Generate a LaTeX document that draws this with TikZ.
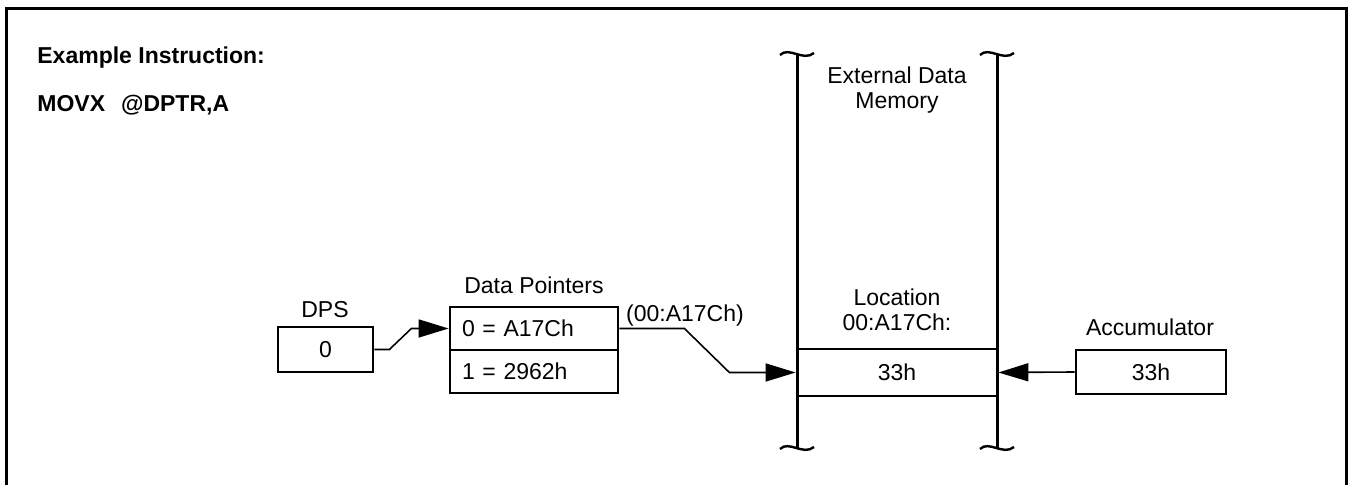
\documentclass[tikz,border=0pt]{standalone}
\usepackage{fontspec}
\setmainfont{Liberation Sans}
\usetikzlibrary{arrows.meta}

\begin{document}
\begin{tikzpicture}[x=0.5pt,y=-0.5pt,
  box node/.style={draw,line width=1.4pt,inner sep=0pt,font=\fontsize{11.5}{12.5}\selectfont},
  text node/.style={inner sep=0pt,align=center,font=\fontsize{11.5}{12.5}\selectfont},
  title node/.style={inner sep=0pt,anchor=base west,font=\fontsize{11.5}{12.5}\selectfont\bfseries},
  link/.style={line width=0.8pt},
  tip/.style={-{Triangle[length=15pt,width=9pt]}}]

\useasboundingbox (0,0) rectangle (1350,485);
\coordinate (f0) at (6.5,485);
\coordinate (f1) at (6.5,8.5);
\coordinate (f2) at (1346.5,8.5);
\coordinate (f3) at (1346.5,485);
\draw[line width=1.7pt] (f0) -- (f1) -- (f2) -- (f3);

\node[title node] (t0) at (37,64) {Example Instruction:};
\node[title node] (t1) at (37,112) {MOVX\hspace{8pt}@DPTR,A};

% memory column
\coordinate (m0) at (797,54);
\coordinate (m1) at (797,448);
\coordinate (m2) at (997,54);
\coordinate (m3) at (997,448);
\draw[line width=1.5pt] (m0) -- (m1);
\draw[line width=1.5pt] (m2) -- (m3);
\foreach \x/\y in {797/54,997/54,797/448,997/448}
  \draw[line width=1.2pt] (\x-17,\y+1) .. controls (\x-8,\y-8) and (\x+6,\y+8) .. (\x+17,\y-1);

\node[text node] (memlabel) at (897,90) {External Data\\Memory};
\node[text node] (loclabel) at (897,310) {Location\\00:A17Ch:};
\node[box node,minimum width=100pt,minimum height=23.5pt] (cell) at (897,372.5) {33h};

% registers
\node[text node] (dpslabel) at (325,310) {DPS};
\node[box node,minimum width=47.5pt,minimum height=22.5pt] (dps) at (325.5,349.5) {0};

\node[text node] (dplabel) at (534,285) {Data Pointers};
\node[box node,minimum width=84pt,minimum height=21.5pt,text width=72pt,inner xsep=6pt,align=left] (dp0) at (534,328.5) {0 = A17Ch};
\node[box node,minimum width=84pt,minimum height=21.5pt,text width=72pt,inner xsep=6pt,align=left] (dp1) at (534,371.5) {1 = 2962h};

\node[text node] (acclabel) at (1150,327) {Accumulator};
\node[box node,minimum width=75pt,minimum height=22pt] (acc) at (1151,372) {33h};

\node[text node,anchor=base] (addr) at (685,322) {(00:A17Ch)};

\draw[link,tip] (dps.east) -- ++(15,0) -- ++(22,-21) -- (dp0.west);
\draw[link,tip] (dp0.east) -- ++(65,0) -- ++(45,44) -- (cell.west);
\draw[link,tip] (acc.west) -- (cell.east);

\end{tikzpicture}
\end{document}
